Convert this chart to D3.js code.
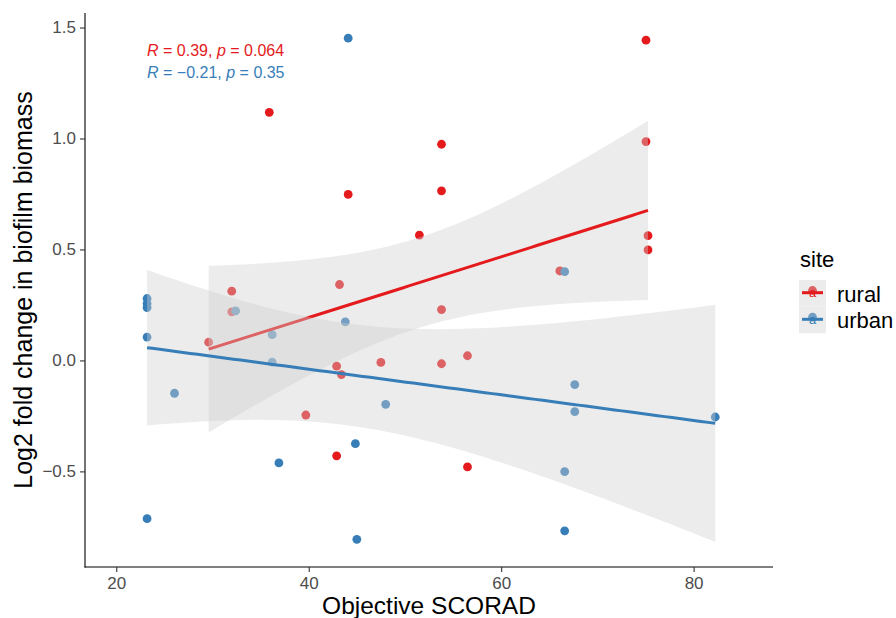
<!DOCTYPE html>
<html>
<head>
<meta charset="utf-8">
<script src="https://cdn.jsdelivr.net/npm/d3@7"></script>
<style>
  html, body { margin: 0; padding: 0; background: #ffffff; }
  svg { display: block; }
  text { font-family: "Liberation Sans", Arial, Helvetica, sans-serif; }
</style>
</head>
<body>
<svg id="chart" width="896" height="618"></svg>
<script>
// Biofilm biomass change vs objective SCORAD, split by site
const sites = ["rural", "urban"];
const siteColors = ["#E41A1C", "#377EB8"];

const ruralScorad = [29.6, 32.0, 32.0, 35.9, 39.7, 42.9, 43.4, 43.2, 42.9, 44.1, 47.5, 51.5,
                     53.8, 53.8, 53.8, 53.8, 56.5, 56.5, 66.1, 75.05, 75.05, 75.26, 75.26];
const ruralLog2FC = [0.082, 0.312, 0.219, 1.118, -0.246, -0.026, -0.064, 0.342, -0.430, 0.748, -0.009, 0.565,
                     0.974, 0.764, 0.229, -0.015, 0.021, -0.480, 0.403, 1.443, 0.986, 0.562, 0.498];

const urbanScorad = [23.2, 23.2, 23.2, 23.2, 23.2, 26.05, 32.4, 36.2, 36.2, 36.9, 43.8,
                     44.1, 44.85, 45.0, 48.0, 66.6, 66.6, 66.6, 67.65, 67.65, 82.25];
const urbanLog2FC = [0.279, 0.256, 0.238, 0.105, -0.713, -0.148, 0.223, 0.116, -0.008, -0.462, 0.174,
                     1.452, -0.375, -0.806, -0.198, 0.400, -0.501, -0.768, -0.109, -0.231, -0.255];

// Correlation labels (Pearson R and p per site)
const corR = ["0.39", "\u22120.21"];
const corP = ["0.064", "0.35"];

const xTicks = [20, 40, 60, 80];
const yTicks = [-0.5, 0.0, 0.5, 1.0, 1.5];
const xLimits = [20, 85];
const xTitle = "Objective SCORAD";
const yTitle = "Log2 fold change in biofilm biomass";
const legendTitle = "site";

// ---------- statistics helpers ----------
const LG = [0.99999999999980993, 676.5203681218851, -1259.1392167224028, 771.32342877765313,
  -176.61502916214059, 12.507343278686905, -0.13857109526572012, 9.9843695780195716e-6, 1.5056327351493116e-7];
function lgamma(z) {
  if (z < 0.5) return Math.log(Math.PI / Math.sin(Math.PI * z)) - lgamma(1 - z);
  z -= 1;
  let a = LG[0];
  for (let i = 1; i < 9; i++) a += LG[i] / (z + i);
  const t = z + 7.5;
  return 0.5 * Math.log(2 * Math.PI) + (z + 0.5) * Math.log(t) - t + Math.log(a);
}
function tDensity(t, v) {
  return Math.exp(lgamma((v + 1) / 2) - lgamma(v / 2) - 0.5 * Math.log(v * Math.PI)
    - (v + 1) / 2 * Math.log(1 + t * t / v));
}
function tCdf(t, v) {
  const n = 400, h = t / n;
  let s = tDensity(0, v) + tDensity(t, v);
  for (let i = 1; i < n; i++) s += (i % 2 ? 4 : 2) * tDensity(i * h, v);
  return 0.5 + s * h / 3;
}
function tQuantile(p, v) {
  let lo = 0, hi = 30;
  for (let k = 0; k < 60; k++) {
    const mid = (lo + hi) / 2;
    if (tCdf(mid, v) < p) lo = mid; else hi = mid;
  }
  return (lo + hi) / 2;
}
function linearFit(xs, ys, nGrid) {
  const n = xs.length;
  const mx = d3.mean(xs), my = d3.mean(ys);
  let sxx = 0, sxy = 0;
  for (let i = 0; i < n; i++) { sxx += (xs[i] - mx) ** 2; sxy += (xs[i] - mx) * (ys[i] - my); }
  const b = sxy / sxx, a = my - b * mx;
  let sse = 0;
  for (let i = 0; i < n; i++) sse += (ys[i] - a - b * xs[i]) ** 2;
  const s = Math.sqrt(sse / (n - 2));
  const tq = tQuantile(0.975, n - 2);
  const [x0, x1] = d3.extent(xs);
  return d3.range(nGrid).map(i => {
    const x = x0 + (x1 - x0) * i / (nGrid - 1);
    const fit = a + b * x;
    const se = s * Math.sqrt(1 / n + (x - mx) ** 2 / sxx);
    return { x, fit, lo: fit - tq * se, hi: fit + tq * se };
  });
}

const groups = [
  { site: sites[0], color: siteColors[0], xs: ruralScorad, ys: ruralLog2FC },
  { site: sites[1], color: siteColors[1], xs: urbanScorad, ys: urbanLog2FC }
];
groups.forEach(g => {
  g.points = g.xs.map((x, i) => ({ x, y: g.ys[i] }));
  g.band = linearFit(g.xs, g.ys, 80);
});

// ---------- layout & scales ----------
const panel = { left: 85, right: 773, top: 13, bottom: 567 };
const expand = (lim) => { const d = (lim[1] - lim[0]) * 0.05; return [lim[0] - d, lim[1] + d]; };

const yValues = [];
groups.forEach(g => {
  g.ys.forEach(v => yValues.push(v));
  g.band.forEach(p => { yValues.push(p.lo); yValues.push(p.hi); });
});

const x = d3.scaleLinear().domain(expand(xLimits)).range([panel.left, panel.right]);
const y = d3.scaleLinear().domain(expand(d3.extent(yValues))).range([panel.bottom, panel.top]);

const svg = d3.select("#chart");
const ribbonFill = "#cfcfcf";
const ribbonOpacity = 0.4;

// points first, then each site's confidence band and fitted line on top
const plot = svg.append("g");
groups.forEach(g => {
  plot.append("g").selectAll("circle").data(g.points).join("circle")
    .attr("cx", d => x(d.x)).attr("cy", d => y(d.y)).attr("r", 4.4)
    .attr("fill", g.color);
});
const area = d3.area().x(d => x(d.x)).y0(d => y(d.lo)).y1(d => y(d.hi));
const line = d3.line().x(d => x(d.x)).y(d => y(d.fit));
groups.forEach(g => {
  plot.append("path").datum(g.band).attr("d", area)
    .attr("fill", ribbonFill).attr("fill-opacity", ribbonOpacity);
  plot.append("path").datum(g.band).attr("d", line)
    .attr("fill", "none").attr("stroke", g.color).attr("stroke-width", 3);
});

// ---------- axes ----------
const fmt = d3.format(".1f");
const xAxis = svg.append("g").attr("transform", `translate(0,${panel.bottom})`)
  .call(d3.axisBottom(x).tickValues(xTicks).tickSize(5).tickPadding(5).tickSizeOuter(0));
const yAxis = svg.append("g").attr("transform", `translate(${panel.left},0)`)
  .call(d3.axisLeft(y).tickValues(yTicks).tickFormat(fmt).tickSize(5).tickPadding(4).tickSizeOuter(0));
[xAxis, yAxis].forEach(ax => {
  ax.select(".domain").attr("stroke", "#000").attr("stroke-width", 1.1);
  ax.selectAll(".tick line").attr("stroke", "#333").attr("stroke-width", 1.1);
  ax.selectAll(".tick text").attr("fill", "#4d4d4d").style("font-size", "17px")
    .style("font-family", '"Liberation Sans", Arial, sans-serif');
});
// stretch axis lines over the full panel
xAxis.select(".domain").attr("d", `M${panel.left - 0.5},0H${panel.right}`);
yAxis.select(".domain").attr("d", `M0,${panel.top}V${panel.bottom + 0.5}`);

svg.append("text").attr("x", (panel.left + panel.right) / 2).attr("y", 614)
  .attr("text-anchor", "middle").style("font-size", "24.5px").attr("fill", "#000").text(xTitle);
svg.append("text").attr("transform", `translate(32,${(panel.top + panel.bottom) / 2}) rotate(-90)`)
  .attr("text-anchor", "middle").style("font-size", "25px").attr("fill", "#000").text(yTitle);

// ---------- correlation labels ----------
const labelX = x(d3.min(groups.flatMap(g => g.xs)));
groups.forEach((g, i) => {
  const t = svg.append("text").attr("x", labelX).attr("y", 56 + i * 21.7)
    .style("font-size", "16px").attr("fill", g.color);
  t.append("tspan").style("font-style", "italic").text("R");
  t.append("tspan").text(" = " + corR[i] + ", ");
  t.append("tspan").style("font-style", "italic").text("p");
  t.append("tspan").text(" = " + corP[i]);
});

// ---------- legend ----------
const lg = svg.append("g").attr("transform", "translate(799,0)");
lg.append("text").attr("x", 1).attr("y", 267).style("font-size", "22px").attr("fill", "#000").text(legendTitle);
groups.forEach((g, i) => {
  const ky = 280 + i * 26.6;
  const k = lg.append("g").attr("transform", `translate(0,${ky})`);
  k.append("rect").attr("width", 27).attr("height", 26.6).attr("fill", "#ffffff");
  k.append("circle").attr("cx", 13.5).attr("cy", 10.5).attr("r", 4.4).attr("fill", g.color);
  k.append("rect").attr("width", 27).attr("height", 26.6).attr("fill", ribbonFill).attr("fill-opacity", ribbonOpacity);
  k.append("line").attr("x1", 3).attr("x2", 24).attr("y1", 12.7).attr("y2", 12.7)
    .attr("stroke", g.color).attr("stroke-width", 3);
  k.append("text").attr("x", 13.5).attr("y", 17).attr("text-anchor", "middle")
    .style("font-size", "13px").attr("fill", g.color).text("a");
  lg.append("text").attr("x", 38).attr("y", ky + 21.5).style("font-size", "22px").attr("fill", "#000").text(g.site);
});
</script>
</body>
</html>
